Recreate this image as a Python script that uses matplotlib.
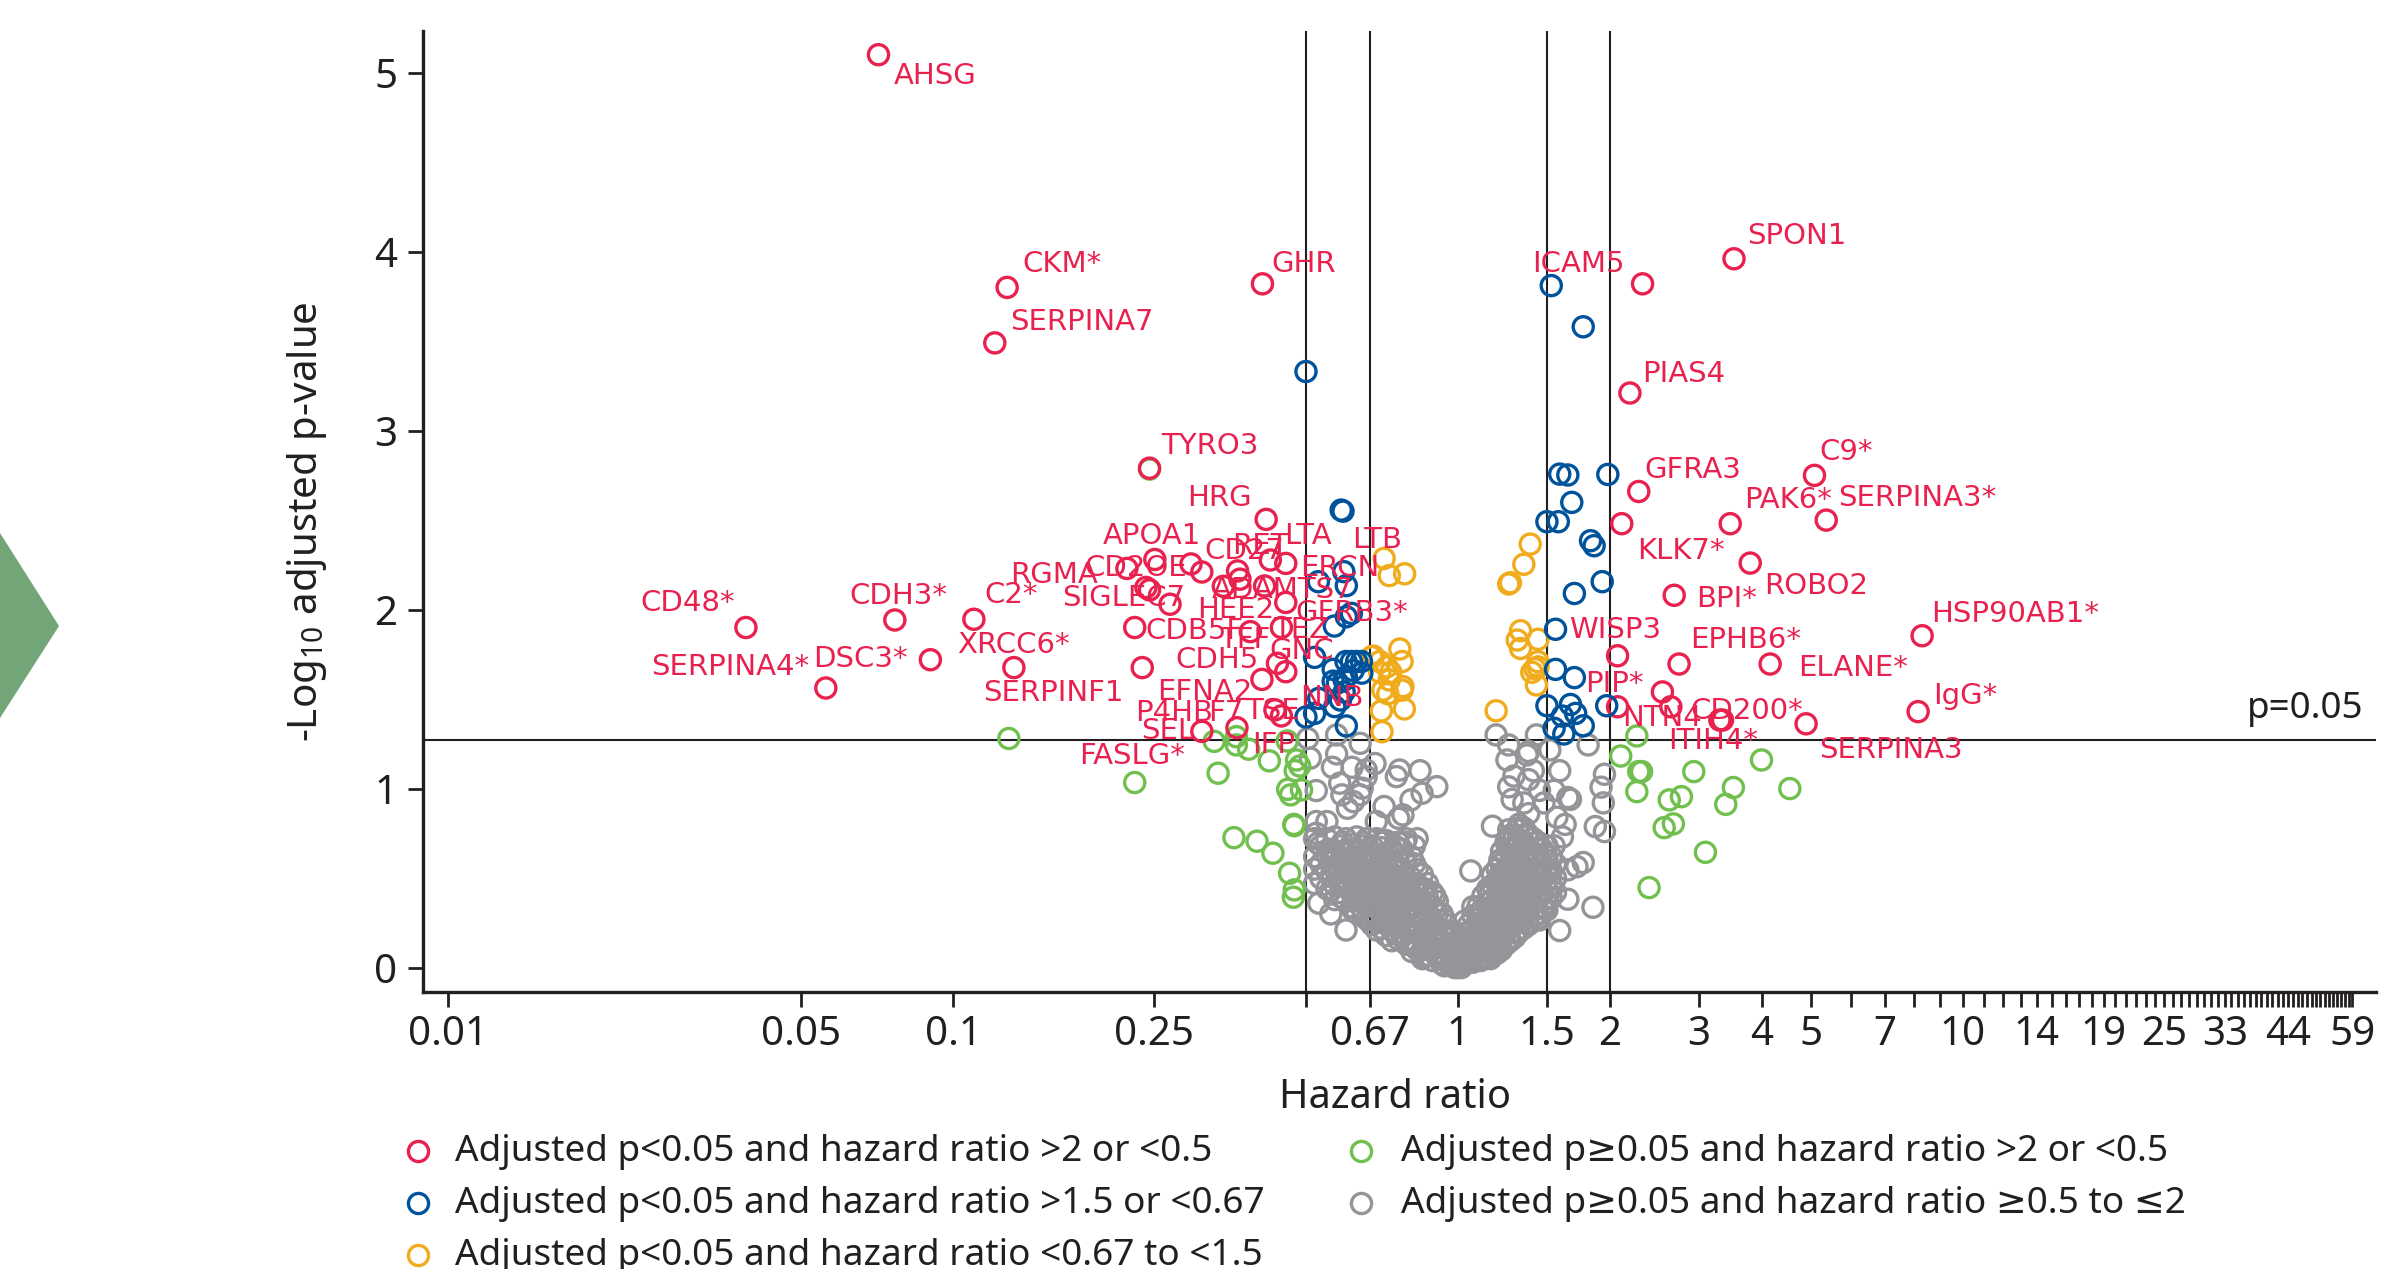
import matplotlib
matplotlib.use("Agg")
import matplotlib.pyplot as plt
import numpy as np
from matplotlib.lines import Line2D
from matplotlib.patches import Polygon

# ---------------- data ----------------
red_hr = [.0712,.128,.121,.410,.245,.417,.251,.221,.296,.311,.366,.425,.456,.241,.245,.269,.343,.414,.37,.456,.229,.388,.447,.439,.456,.409,.237,.434,.447,.365,.311,
          .0389,.0767,.110,.0902,.132,.056,
          2.32,3.52,2.19,2.28,5.08,3.46,5.36,2.11,3.79,2.68,8.3,2.74,4.15,2.07,2.54,2.64,2.07,8.15,4.89,3.30,3.34]
red_y = [5.10,3.80,3.49,3.82,2.79,2.504,2.28,2.23,2.255,2.21,2.216,2.277,2.258,2.124,2.11,2.03,2.13,2.132,2.17,2.04,1.90,1.877,1.90,1.70,1.653,1.61,1.676,1.44,1.406,1.34,1.32,
         1.90,1.942,1.946,1.72,1.676,1.562,
         3.82,3.96,3.21,2.66,2.75,2.48,2.50,2.48,2.26,2.08,1.854,1.696,1.696,1.742,1.54,1.457,1.457,1.43,1.362,1.383,1.383]

blue_hr = [1.59,1.65,1.98,1.68,1.50,1.58,1.83,1.86,1.93,1.70,1.56,1.56,1.70,1.50,1.67,1.97,1.71,1.61,1.77,1.55,1.62,1.53,1.77,.50,
           .587,.592,.529,.594,.601,.569,.601,.615,.52,.566,.60,.615,.63,.644,.577,.601,.645,.62,.595,.566,.57,.585,.53,.50,.52,.601,.595]
blue_y = [2.757,2.752,2.755,2.599,2.491,2.491,2.385,2.357,2.156,2.09,1.89,1.666,1.62,1.463,1.47,1.463,1.42,1.405,1.351,1.337,1.305,3.81,3.58,3.33,
          2.556,2.55,2.156,2.212,2.134,1.908,1.96,1.979,1.733,1.666,1.71,1.71,1.71,1.71,1.59,1.625,1.645,1.66,1.607,1.60,1.458,1.495,1.504,1.40,1.42,1.35,1.54]

yellow_hr = [1.39,1.35,1.26,1.27,1.33,1.31,1.33,1.44,1.44,1.42,1.40,1.43,1.19,1.44,
             .714,.731,.784,.675,.723,.731,.778,.726,.705,.783,.707,.767,.775,.70,.68,.736,.70,.775,.71]
yellow_y = [2.366,2.253,2.143,2.15,1.882,1.83,1.783,1.834,1.709,1.67,1.65,1.579,1.435,1.68,
            2.286,2.19,2.20,1.737,1.68,1.607,1.57,1.53,1.434,1.445,1.318,1.78,1.71,1.71,1.74,1.65,1.65,1.55,1.55]

green_hr = [.245,.129,.329,.364,.364,.385,.335,.229,.423,.459,.479,.486,.476,.46,.49,.466,.474,.473,.36,.40,.43,.464,.474,.472,
            2.26,2.10,2.28,2.31,2.26,2.93,3.99,3.51,4.54,2.77,2.62,3.39,2.67,2.56,3.09,2.39]
green_y = [2.785,1.28,1.264,1.29,1.244,1.22,1.086,1.034,1.155,1.266,1.16,1.126,1.10,.996,.993,.965,.793,.80,.726,.706,.639,.527,.434,.393,
           1.294,1.182,1.095,1.095,.983,1.095,1.16,1.006,1.0,.955,.937,.912,.803,.782,.644,.447]

gray_sparse_hr = [.504,.575,.64,.51,.575,.564,.617,.685,.658,.766,.755,.841,.908,.849,.807,.524,.583,.589,.646,.64,.621,.604,.714,.778,.763,.689,.524,.55,.524,.528,.658,
                  1.19,1.43,1.81,1.26,1.38,1.25,1.52,1.37,1.59,1.95,1.92,1.94,1.87,1.95,1.77,1.72,1.65,1.65,1.85,1.59,1.50,1.45,
                  1.26,1.29,1.38,1.41,1.45,1.55,1.65,1.67,1.28,1.35,1.48,1.38,1.57,1.63,1.61,1.55,1.17,1.26,1.32,
                  1.06,.53,.56,.60]
gray_sparse_y = [1.28,1.30,1.253,1.17,1.194,1.119,1.119,1.14,1.104,1.104,1.067,1.10,1.011,.974,.937,.989,1.03,.965,1.002,.965,.927,.89,.90,.853,.834,.816,.816,.816,.75,.695,1.067,
                 1.30,1.30,1.244,1.244,1.207,1.16,1.216,1.188,1.10,1.08,1.008,.92,.788,.76,.587,.564,.546,.382,.337,.207,.322,.266,
                 1.01,1.07,1.05,1.10,.99,.99,.95,.94,.94,.92,.92,.86,.84,.80,.73,.68,.79,.77,.80,
                 .54,.36,.30,.21]

gray_dense_hr = [.52,.55,.57,.60,.63,.66,.69,.72,.76,.79,.83,.87,.91,.95,1.0,1.03,1.07,1.12,1.17,1.22,1.27,1.32,1.38,1.44,1.50,1.56,
                 .535,.585,.615,.645,.675,.705,.74,.775,.81,.85,.89,.93,.975,1.015,1.05,1.095,1.145,1.195,1.245,1.295,1.35,1.41,1.47,1.53,
                 .56,.59,.62,.65,.68,.71,.75,.785,.82,.86,.90,.94,.985,1.01,1.06,1.11,1.16,1.21,1.26,1.31,1.37,1.43,1.49]
gray_dense_y = [[.72,.62,.55,.47],[.72,.63,.54,.44],[.73,.64,.55,.46,.38],[.72,.64,.55,.46,.37],[.73,.65,.56,.47,.38,.31],
                [.72,.63,.54,.45,.36,.27],[.72,.62,.53,.44,.35,.26,.21],[.71,.61,.52,.43,.34,.26,.18],[.70,.60,.50,.42,.33,.24,.16],
                [.72,.58,.48,.40,.31,.22,.13],[.72,.55,.45,.37,.28,.19,.10],[.47,.39,.31,.23,.14,.07],[.37,.30,.22,.13,.06],[.24,.17,.10,.03],
                [.16,.09,.04,.0],[.02,.06,.12,.19,.26],[.03,.08,.15,.22,.29,.34],[.05,.10,.18,.26,.33,.40],[.08,.15,.22,.30,.38,.46,.52],
                [.10,.17,.25,.33,.42,.50,.58,.65],[.15,.24,.32,.41,.50,.58,.66,.74],[.20,.28,.37,.46,.55,.63,.71,.78],[.24,.32,.41,.50,.58,.66,.74],
                [.30,.38,.46,.55,.63,.70],[.36,.44,.52,.60,.68],[.42,.50,.58],
                [.68,.58,.50],[.68,.60,.50,.42],[.69,.60,.51,.42,.34],[.68,.59,.50,.41,.33],[.68,.58,.49,.40,.31,.24],[.67,.57,.48,.39,.30,.22],
                [.66,.56,.47,.38,.29,.21,.15],[.66,.54,.45,.36,.27,.18],[.62,.50,.41,.33,.24,.15,.09],[.52,.43,.35,.27,.18,.10,.05],[.42,.34,.26,.18,.10,.04],
                [.30,.21,.14,.07,.02],[.20,.13,.06,.01],[.12,.05,.0],[.17,.10,.03,.24],[.27,.20,.12,.05,.34],[.36,.28,.19,.11,.06,.44],
                [.47,.38,.29,.20,.13,.08,.55],[.62,.54,.45,.37,.28,.20,.13,.70],[.74,.66,.58,.50,.41,.33,.24,.17],[.78,.70,.62,.53,.45,.36,.28,.22],
                [.72,.64,.54,.45,.36,.28],[.66,.58,.50,.42,.33],[.62,.54,.46,.39],
                [.66,.59,.51,.43],[.70,.65,.57,.47,.39],[.66,.56,.48,.40,.32],[.70,.63,.54,.44,.36,.29],[.64,.55,.46,.37,.28],[.70,.62,.52,.43,.35,.25],
                [.68,.58,.50,.40,.31,.23,.19],[.70,.61,.51,.42,.32,.23,.15],[.68,.58,.46,.38,.30,.20,.12],[.44,.37,.29,.21,.12,.06],[.40,.32,.24,.15,.08],
                [.27,.19,.11,.05,.01],[.18,.11,.05,.0],[.14,.07,.02],[.20,.13,.07,.03],[.24,.17,.09,.04,.31],[.33,.25,.16,.09,.05,.42],
                [.44,.36,.27,.18,.11,.52,.60],[.56,.48,.40,.31,.22,.15,.66,.72],[.70,.62,.53,.44,.35,.27,.19,.77],[.75,.66,.58,.49,.40,.31,.25],
                [.70,.61,.50,.41,.33,.27],[.63,.55,.47,.38,.33]]

x_ticks = [.01,.05,.1,.25,.5,.67,1,1.5,2] + list(range(3, 60))
x_tick_labels = {.01:'0.01',.05:'0.05',.1:'0.1',.25:'0.25',.67:'0.67',1:'1',1.5:'1.5',2:'2',3:'3',4:'4',5:'5',7:'7',
                 10:'10',14:'14',19:'19',25:'25',33:'33',44:'44',59:'59'}
y_ticks = [0,1,2,3,4,5]
v_lines = [.5,.67,1.5,2]
p_line = 1.27

labels = ['AHSG','CKM*','SERPINA7','GHR','TYRO3','HRG','APOA1','LTA','RET','CD27','LTB','ERCN','RGMA','CD2OE','SIGLEC7','ADAMTS7',
          'HEE2','TEZ','GFRB3*','CDB5F','TFF','GNC','CDH5','EFNA2','P4HB','F7','TSE','NNB','SEL','IFP','FASLG*','SERPINF1','CD48*','CDH3*',
          'C2*','SERPINA4*','DSC3*','XRCC6*','ICAM5','SPON1','PIAS4','GFRA3','C9*','PAK6*','SERPINA3*','KLK7*','ROBO2','BPI*','WISP3',
          'HSP90AB1*','EPHB6*','ELANE*','PIP*','NTN4','CD200*','ITIH4*','IgG*','SERPINA3']

legend_labels = ['Adjusted p<0.05 and hazard ratio >2 or <0.5','Adjusted p<0.05 and hazard ratio >1.5 or <0.67',
                 'Adjusted p<0.05 and hazard ratio <0.67 to <1.5','Adjusted p\u22650.05 and hazard ratio >2 or <0.5',
                 'Adjusted p\u22650.05 and hazard ratio \u22650.5 to \u22642']

# ---------------- layout (reference pixels) ----------------
W, H = 2393, 1269
label_px = [(894,76),(1022,264),(1010,322),(1271,264),(1161,446),(1187,498),(1103,536),(1284,536),(1232,546),(1204,551),(1352,540),(1300,568),
            (1010,575),(1084,568),(1062,598),(1212,590),(1197,610),(1273,630),(1295,613),(1145,631),(1219,640),(1269,651),(1175,660),(1157,692),
            (1135,713),(1208,713),(1245,711),(1300,698),(1141,731),(1252,745),(1079,756),(983,693),(640,603),(849,596),(984,595),(651,667),(813,659),(957,645),
            (1532,264),(1747,236),(1642,374),(1644,470),(1819,452),(1744,500),(1838,498),(1637,551),(1764,586),(1696,599),(1569,630),
            (1931,614),(1690,640),(1798,668),(1585,684),(1622,718),(1690,711),(1668,741),(1933,696),(1819,750)]
legend_px = [(418,455,1152),(418,455,1204),(418,455,1256),(1361,1401,1152),(1361,1401,1204)]

RED, BLUE, YEL, GRN, GRY = '#E8214F', '#00539B', '#F0AC1C', '#71BF4E', '#939598'
INK = '#231F20'
legend_colors = [RED, BLUE, YEL, GRN, GRY]

plt.rcParams['font.family'] = ['Noto Sans', 'DejaVu Sans']
plt.rcParams['mathtext.default'] = 'regular'

fig = plt.figure(figsize=(W/100, H/100), dpi=100, facecolor='white')
L, R, T, B = 423, 2376, 31, 992
ax = fig.add_axes([L/W, 1-B/H, (R-L)/W, (B-T)/H])
ax.set_xscale('log')
per_dec = 505
ax.set_xlim(10**((L-1458)/per_dec), 10**((R-1458)/per_dec))
ax.set_ylim((967.6-B)/179, (967.6-T)/179)

for s in ('top','right'):
    ax.spines[s].set_visible(False)
for s in ('left','bottom'):
    ax.spines[s].set_linewidth(2.4)
    ax.spines[s].set_color(INK)

for v in v_lines:
    ax.axvline(v, color=INK, lw=1.5, zorder=1)
ax.axhline(p_line, color=INK, lw=1.5, zorder=1)

mk = dict(s=210, facecolors='none', linewidths=2.4, zorder=2)
dense_x = [h for h, ys in zip(gray_dense_hr, gray_dense_y) for _ in ys]
dense_y = [y for ys in gray_dense_y for y in ys]
ax.scatter(gray_sparse_hr, gray_sparse_y, edgecolors=GRY, **mk)
ax.scatter(dense_x, dense_y, edgecolors=GRY, **mk)
ax.scatter(green_hr, green_y, edgecolors=GRN, **mk)
ax.scatter(yellow_hr, yellow_y, edgecolors=YEL, **mk)
ax.scatter(red_hr, red_y, edgecolors=RED, **mk)
ax.scatter(blue_hr, blue_y, edgecolors=BLUE, **mk)

ax.set_xticks(x_ticks)
ax.set_xticklabels([x_tick_labels.get(t, '') for t in x_ticks])
ax.xaxis.set_minor_locator(matplotlib.ticker.NullLocator())
ax.set_yticks(y_ticks)
ax.tick_params(axis='both', which='major', length=10.5, width=2, color=INK, labelcolor=INK, labelsize=29)
ax.tick_params(axis='x', pad=6)
ax.tick_params(axis='y', pad=8)

fig.text(1395/W, 1-1098/H, 'Hazard ratio', fontsize=28.7, color=INK, ha='center', va='center')
fig.text(307/W, 1-522/H, '-Log$_{10}$ adjusted p-value', fontsize=29, color=INK, ha='center', va='center', rotation=90)
fig.text(2364/W, 1-709/H, 'p=0.05', fontsize=26.5, color=INK, ha='right', va='center')

for t, (x, y) in zip(labels, label_px):
    fig.text(x/W, 1-y/H, t, fontsize=21, color=RED, ha='left', va='center', family='DejaVu Sans', zorder=5)

for t, c, (mx, tx, y) in zip(legend_labels, legend_colors, legend_px):
    fig.add_artist(Line2D([mx/W], [1-(y-1)/H], marker='o', ms=14.5, mfc='none', mec=c, mew=2.4, ls='none', transform=fig.transFigure))
    fig.text(tx/W, 1-y/H, t, fontsize=26.6, color=INK, ha='left', va='center')

fig.add_artist(Polygon([[0, 1-533/H], [59/W, 1-626/H], [0, 1-718/H]], closed=True, facecolor='#72A678', edgecolor='none', transform=fig.transFigure))

fig.savefig('out.png', dpi=100)
